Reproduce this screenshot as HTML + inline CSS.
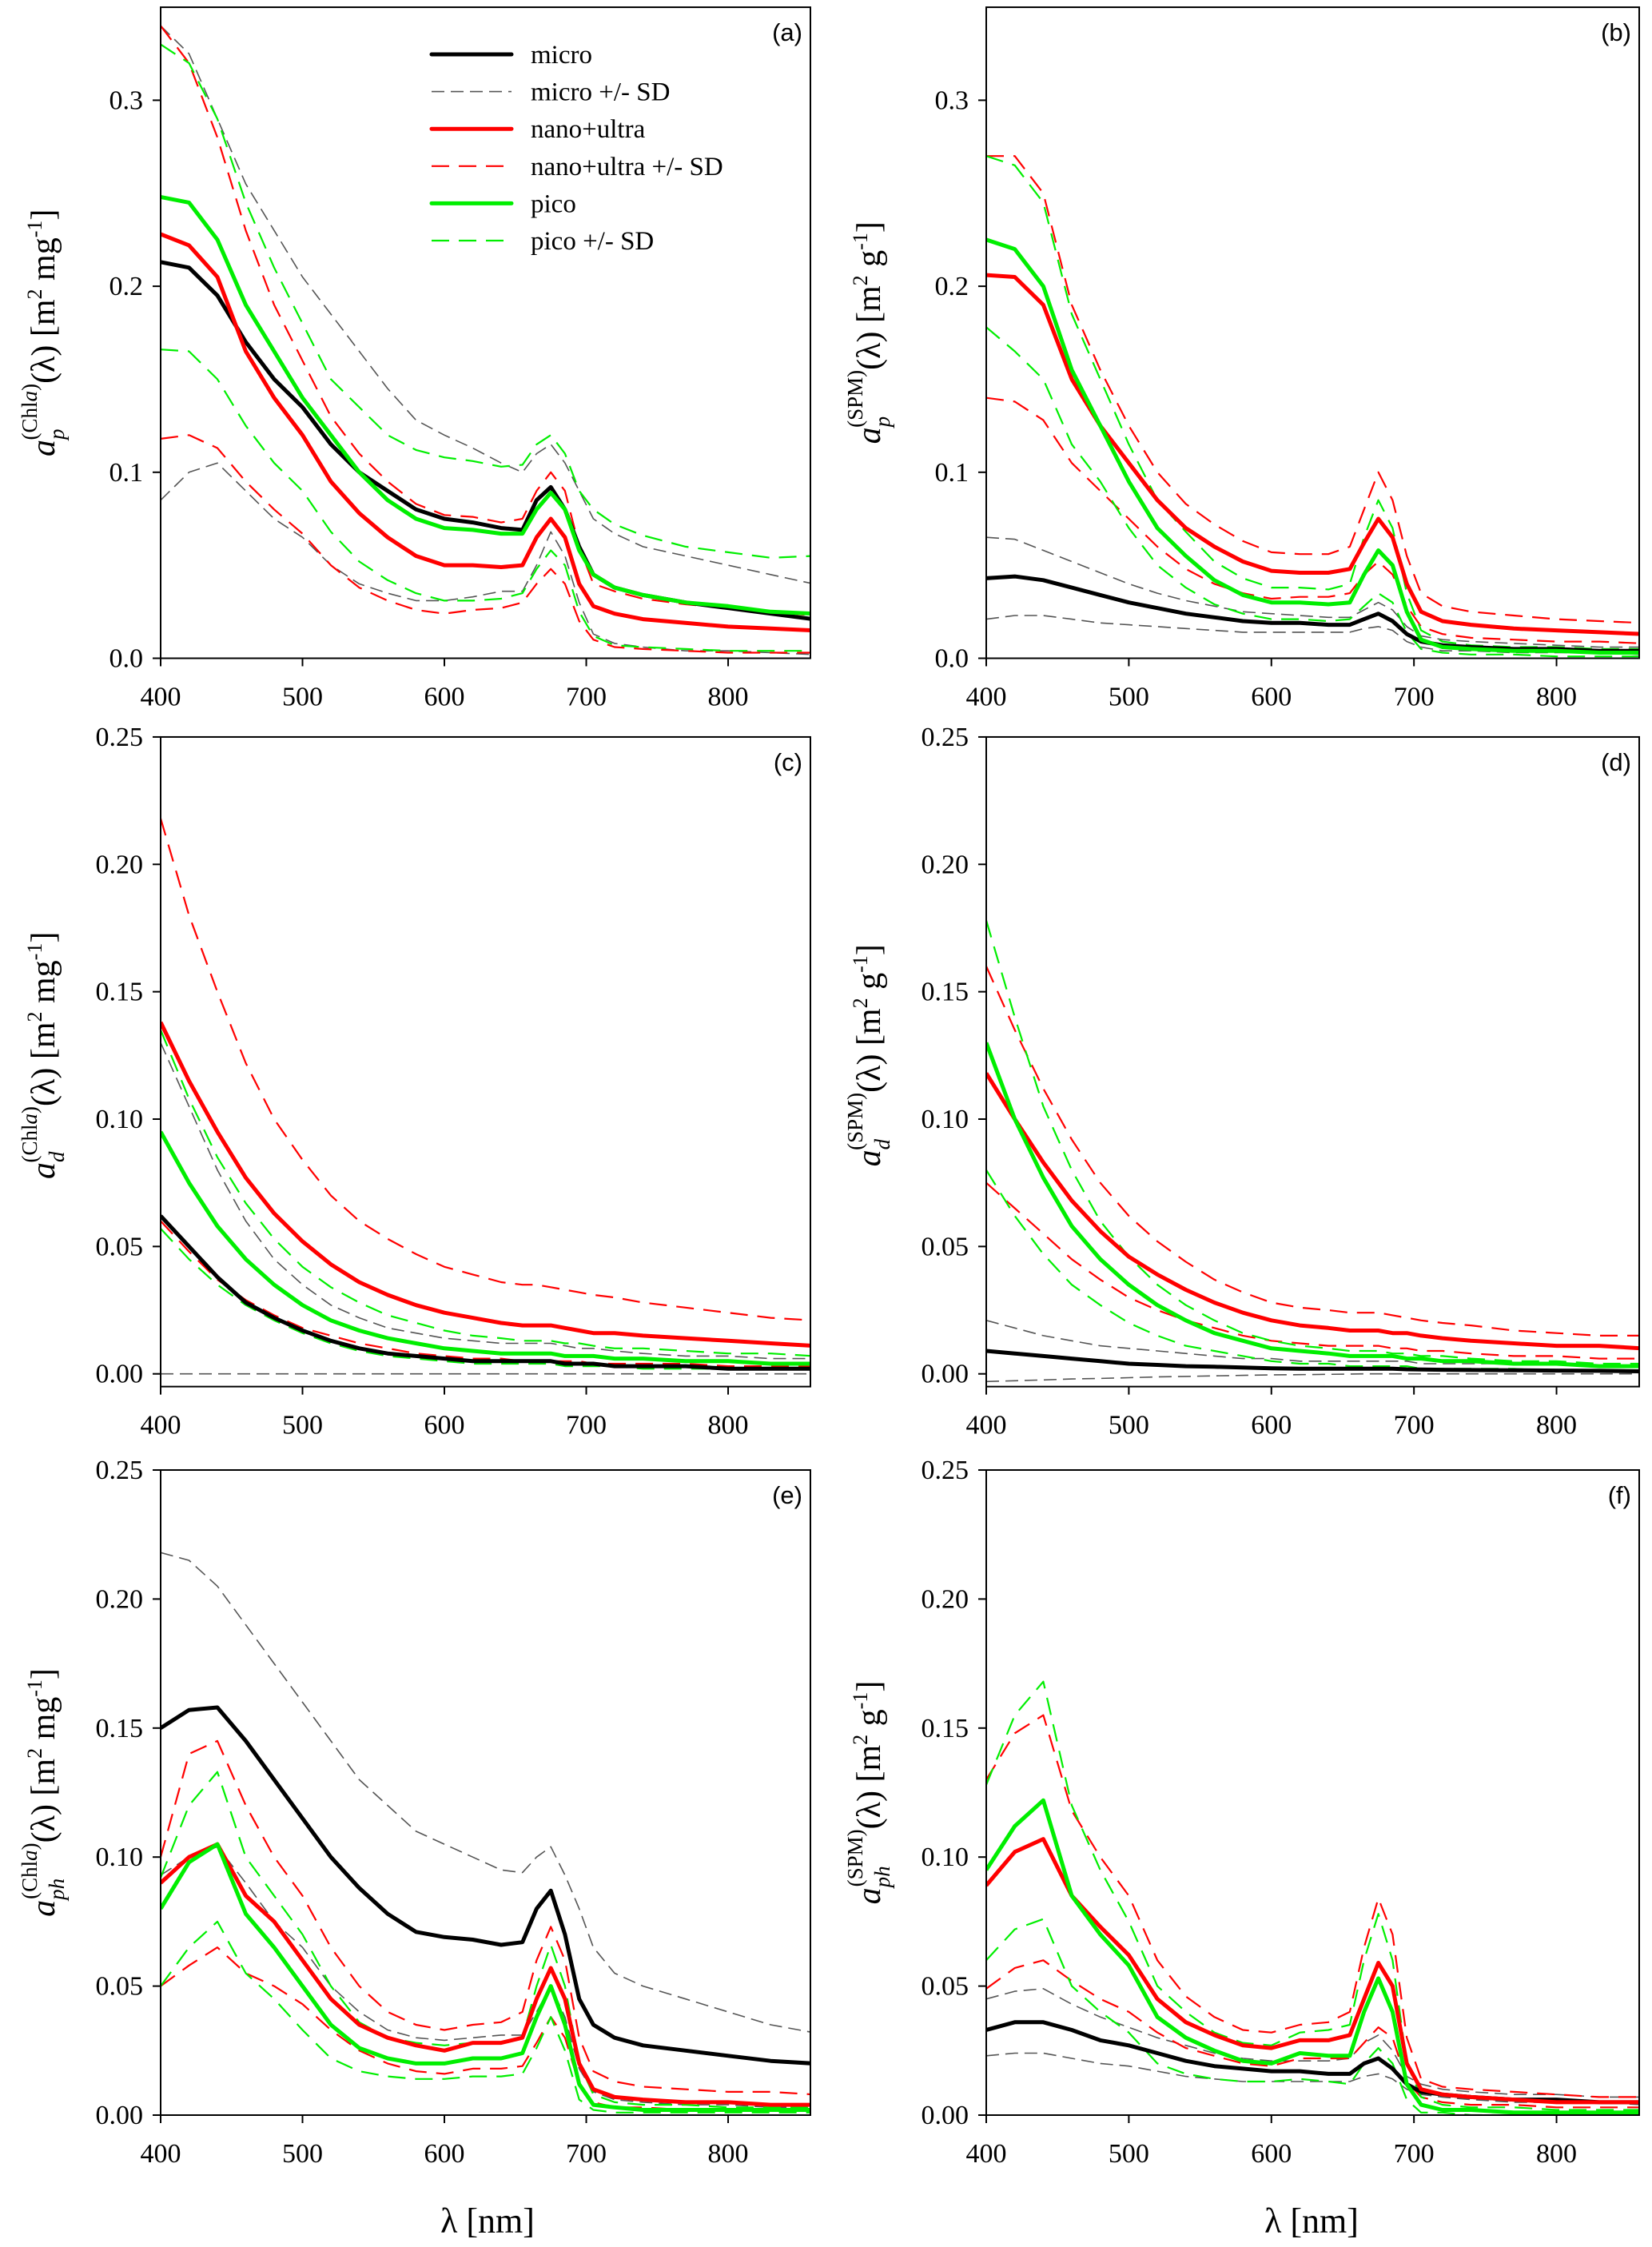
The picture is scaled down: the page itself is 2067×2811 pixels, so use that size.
<!DOCTYPE html>
<html><head><meta charset="utf-8">
<style>
html,body{margin:0;padding:0;background:#fff;}
body{width:2067px;height:2811px;position:relative;overflow:hidden;font-family:"Liberation Serif",serif;}
svg{position:absolute;left:0;top:0;}
svg text{font-family:"Liberation Serif",serif;}
svg text.sans{font-family:"Liberation Sans",sans-serif;}
</style></head>
<body>
<svg id="chart" width="2067" height="2811" viewBox="0 0 2067 2811"></svg>

<script>
const wavelengths=[400,420,440,460,480,500,520,540,560,580,600,620,640,655,665,675,685,695,705,720,740,770,800,830,860];
const xTicks=[400,500,600,700,800];
const yTicksAB=[0,0.1,0.2,0.3];
const yTicksCF=[0,0.05,0.10,0.15,0.20,0.25];

// panel a
const aMicro=[.213,.21,.195,.17,.15,.135,.115,.1,.09,.08,.075,.073,.07,.069,.085,.092,.08,.06,.045,.038,.034,.03,.027,.024,.021];
const aMicroHi=[.34,.325,.29,.255,.23,.205,.185,.165,.145,.128,.12,.113,.105,.10,.11,.115,.105,.09,.075,.067,.06,.055,.05,.045,.04];
const aMicroLo=[.085,.1,.105,.09,.075,.065,.05,.04,.035,.031,.031,.033,.036,.036,.05,.068,.055,.03,.013,.008,.006,.004,.004,.003,.002];
const aNano=[.228,.222,.205,.165,.14,.12,.095,.078,.065,.055,.05,.05,.049,.05,.065,.075,.065,.04,.028,.024,.021,.019,.017,.016,.015];
const aNanoHi=[.34,.32,.28,.23,.19,.16,.13,.11,.095,.083,.077,.076,.073,.075,.09,.1,.09,.06,.04,.036,.032,.029,.027,.025,.023];
const aNanoLo=[.118,.12,.113,.095,.08,.067,.05,.038,.031,.026,.024,.026,.027,.03,.04,.048,.04,.02,.01,.006,.005,.004,.003,.003,.003];
const aPico=[.248,.245,.225,.19,.165,.14,.12,.1,.085,.075,.07,.069,.067,.067,.08,.089,.08,.058,.045,.038,.034,.03,.028,.025,.024];
const aPicoHi=[.33,.32,.29,.245,.21,.18,.15,.135,.12,.112,.108,.106,.103,.104,.115,.12,.11,.09,.08,.072,.066,.06,.057,.054,.055];
const aPicoLo=[.166,.165,.15,.125,.105,.09,.068,.052,.042,.035,.031,.031,.032,.035,.048,.058,.05,.025,.012,.007,.006,.005,.004,.004,.004];
// panel b
const bMicro=[.043,.044,.042,.038,.034,.03,.027,.024,.022,.02,.019,.019,.018,.018,.021,.024,.02,.013,.009,.007,.006,.005,.005,.004,.004];
const bMicroHi=[.065,.064,.058,.052,.046,.04,.035,.031,.028,.025,.024,.023,.022,.022,.026,.03,.026,.017,.012,.01,.009,.008,.007,.006,.006];
const bMicroLo=[.021,.023,.023,.021,.019,.018,.017,.016,.015,.014,.014,.014,.014,.014,.016,.017,.015,.009,.006,.004,.004,.003,.003,.003,.002];
const bNano=[.206,.205,.19,.15,.125,.105,.085,.07,.06,.052,.047,.046,.046,.048,.062,.075,.065,.04,.025,.02,.018,.016,.015,.014,.013];
const bNanoHi=[.27,.27,.25,.19,.155,.125,.1,.083,.072,.063,.057,.056,.056,.06,.08,.1,.085,.055,.035,.028,.025,.023,.021,.02,.019];
const bNanoLo=[.14,.138,.128,.105,.09,.075,.06,.048,.04,.035,.032,.033,.033,.035,.045,.052,.045,.028,.017,.013,.011,.01,.009,.009,.008];
const bPico=[.225,.22,.2,.155,.125,.095,.07,.055,.042,.034,.03,.03,.029,.03,.045,.058,.05,.025,.01,.006,.005,.004,.004,.003,.003];
const bPicoHi=[.27,.265,.245,.185,.15,.115,.085,.068,.052,.043,.038,.038,.037,.04,.065,.085,.07,.035,.015,.009,.007,.006,.006,.005,.005];
const bPicoLo=[.178,.165,.15,.115,.095,.07,.05,.038,.029,.024,.021,.021,.02,.021,.028,.035,.03,.014,.005,.003,.002,.002,.001,.001,.001];
// panel c
const cMicro=[.062,.05,.038,.028,.022,.017,.013,.01,.008,.007,.006,.005,.005,.005,.005,.005,.004,.004,.004,.003,.003,.003,.002,.002,.002];
const cMicroHi=[.13,.105,.08,.06,.045,.035,.027,.022,.018,.016,.014,.013,.012,.012,.012,.012,.011,.01,.01,.009,.008,.007,.007,.006,.006];
const cMicroLo=[0,0,0,0,0,0,0,0,0,0,0,0,0,0,0,0,0,0,0,0,0,0,0,0,0];
const cNano=[.138,.115,.095,.077,.063,.052,.043,.036,.031,.027,.024,.022,.02,.019,.019,.019,.018,.017,.016,.016,.015,.014,.013,.012,.011];
const cNanoHi=[.218,.18,.15,.122,.1,.084,.07,.06,.053,.047,.042,.039,.036,.035,.035,.034,.033,.032,.031,.03,.028,.026,.024,.022,.021];
const cNanoLo=[.06,.048,.037,.029,.023,.018,.015,.012,.01,.008,.007,.006,.006,.005,.005,.005,.005,.005,.004,.004,.004,.004,.003,.003,.003];
const cPico=[.095,.075,.058,.045,.035,.027,.021,.017,.014,.012,.01,.009,.008,.008,.008,.008,.007,.007,.007,.006,.006,.005,.005,.004,.004];
const cPicoHi=[.135,.108,.085,.067,.053,.042,.034,.028,.023,.02,.017,.015,.014,.013,.013,.013,.012,.012,.011,.01,.01,.009,.008,.008,.007];
const cPicoLo=[.057,.045,.035,.027,.021,.016,.012,.009,.007,.006,.005,.004,.004,.004,.004,.004,.003,.003,.003,.003,.002,.002,.002,.002,.002];
// panel d
const dMicro=[.009,.008,.007,.006,.005,.004,.0035,.003,.0028,.0025,.0022,.002,.002,.002,.002,.002,.002,.0018,.0017,.0016,.0015,.0014,.0013,.0012,.001];
const dMicroHi=[.021,.018,.015,.013,.011,.01,.009,.008,.007,.006,.006,.005,.005,.005,.005,.005,.005,.005,.004,.004,.004,.004,.004,.003,.003];
const dMicroLo=[-.003,-.0027,-.0024,-.002,-.0018,-.0015,-.0012,-.001,-.0008,-.0006,-.0004,-.0003,-.0002,-.0001,0,0,0,0,0,0,0,0,0,0,0];
const dNano=[.118,.1,.083,.068,.056,.046,.039,.033,.028,.024,.021,.019,.018,.017,.017,.017,.016,.016,.015,.014,.013,.012,.011,.011,.01];
const dNanoHi=[.16,.135,.112,.092,.075,.062,.052,.044,.037,.032,.028,.026,.025,.024,.024,.024,.023,.022,.021,.02,.019,.017,.016,.015,.015];
const dNanoLo=[.075,.065,.055,.045,.037,.03,.025,.021,.018,.015,.013,.012,.011,.011,.011,.011,.01,.01,.009,.009,.008,.007,.007,.006,.006];
const dPico=[.13,.1,.077,.058,.045,.035,.027,.021,.016,.013,.01,.009,.008,.007,.007,.007,.007,.006,.006,.005,.005,.004,.004,.003,.003];
const dPicoHi=[.178,.14,.105,.08,.06,.046,.035,.027,.021,.016,.013,.011,.01,.009,.009,.009,.008,.008,.007,.007,.006,.005,.005,.004,.004];
const dPicoLo=[.08,.062,.047,.035,.027,.02,.015,.011,.009,.007,.005,.004,.004,.003,.003,.003,.003,.003,.002,.002,.002,.002,.001,.001,.001];
// panel e
const eMicro=[.15,.157,.158,.145,.13,.115,.1,.088,.078,.071,.069,.068,.066,.067,.08,.087,.07,.045,.035,.03,.027,.025,.023,.021,.02];
const eMicroHi=[.218,.215,.205,.19,.175,.16,.145,.13,.12,.11,.105,.1,.095,.094,.1,.104,.093,.08,.065,.055,.05,.045,.04,.035,.032];
const eMicroLo=[.093,.1,.104,.09,.075,.065,.05,.04,.033,.03,.029,.03,.031,.031,.04,.05,.038,.018,.009,.006,.005,.004,.004,.003,.003];
const eNano=[.09,.1,.105,.085,.075,.06,.045,.035,.03,.027,.025,.028,.028,.03,.045,.057,.045,.02,.01,.007,.006,.005,.005,.004,.004];
const eNanoHi=[.1,.14,.145,.12,.1,.085,.065,.05,.04,.035,.033,.035,.036,.04,.06,.073,.06,.03,.017,.013,.011,.01,.009,.009,.008];
const eNanoLo=[.05,.058,.065,.055,.05,.043,.033,.025,.02,.017,.016,.018,.018,.019,.028,.038,.03,.012,.005,.003,.003,.002,.002,.002,.002];
const ePico=[.08,.098,.105,.078,.065,.05,.035,.026,.022,.02,.02,.022,.022,.024,.038,.05,.035,.012,.004,.003,.002,.002,.002,.002,.002];
const ePicoHi=[.092,.12,.133,.1,.085,.07,.05,.036,.03,.028,.027,.028,.028,.03,.05,.066,.05,.02,.008,.005,.004,.004,.003,.003,.003];
const ePicoLo=[.05,.065,.075,.055,.045,.033,.022,.017,.015,.014,.014,.015,.015,.016,.026,.038,.025,.006,.002,.001,.001,.001,.001,.001,.001];
// panel f
const fMicro=[.033,.036,.036,.033,.029,.027,.024,.021,.019,.018,.017,.017,.016,.016,.02,.022,.018,.012,.009,.008,.007,.006,.006,.005,.005];
const fMicroHi=[.045,.048,.049,.043,.038,.034,.03,.027,.024,.022,.021,.021,.021,.022,.028,.031,.025,.015,.012,.01,.009,.008,.008,.007,.007];
const fMicroLo=[.023,.024,.024,.022,.02,.019,.017,.015,.014,.013,.013,.013,.013,.013,.015,.016,.014,.01,.008,.007,.006,.005,.005,.005,.004];
const fNano=[.089,.102,.107,.085,.073,.062,.045,.036,.031,.027,.026,.029,.029,.031,.045,.059,.05,.02,.01,.008,.007,.006,.005,.005,.005];
const fNanoHi=[.13,.148,.155,.118,.1,.085,.06,.046,.038,.033,.032,.035,.036,.04,.065,.084,.07,.03,.014,.011,.01,.009,.008,.007,.007];
const fNanoLo=[.049,.057,.06,.052,.045,.04,.032,.026,.023,.02,.019,.022,.022,.022,.028,.034,.03,.013,.007,.005,.004,.004,.003,.003,.003];
const fPico=[.095,.112,.122,.085,.07,.058,.038,.03,.025,.021,.02,.024,.023,.023,.04,.053,.04,.012,.004,.002,.002,.001,.001,.001,.001];
const fPicoHi=[.128,.155,.168,.12,.095,.075,.05,.04,.032,.028,.027,.032,.033,.035,.06,.078,.06,.02,.007,.004,.003,.003,.002,.002,.002];
const fPicoLo=[.06,.072,.076,.05,.04,.032,.02,.016,.014,.013,.013,.014,.013,.012,.02,.026,.02,.006,.001,.001,0,0,0,0,0];

const NS="http://www.w3.org/2000/svg";
const svg=document.getElementById('chart');
function mk(tag,attrs,parent){const e=document.createElementNS(NS,tag);for(const k in attrs)e.setAttribute(k,attrs[k]);(parent||svg).appendChild(e);return e;}

const panels=[
 {id:'a',L:201,R:1014,y0px:823.5,ppu:2327,ymin:0,ymax:0.35,ticks:yTicksAB,dec:1,sub:'p',sup:'Chl',unit:'mg',series:[aMicroHi,aMicroLo,aNanoHi,aNanoLo,aPicoHi,aPicoLo,aMicro,aNano,aPico]},
 {id:'b',L:1234,R:2051,y0px:823.5,ppu:2327,ymin:0,ymax:0.35,ticks:yTicksAB,dec:1,sub:'p',sup:'SPM',unit:'g',series:[bMicroHi,bMicroLo,bNanoHi,bNanoLo,bPicoHi,bPicoLo,bMicro,bNano,bPico]},
 {id:'c',L:201,R:1014,y0px:1718.7,ppu:3187,ymin:-0.005,ymax:0.25,ticks:yTicksCF,dec:2,sub:'d',sup:'Chl',unit:'mg',series:[cMicroHi,cMicroLo,cNanoHi,cNanoLo,cPicoHi,cPicoLo,cMicro,cNano,cPico]},
 {id:'d',L:1234,R:2051,y0px:1718.7,ppu:3187,ymin:-0.005,ymax:0.25,ticks:yTicksCF,dec:2,sub:'d',sup:'SPM',unit:'g',series:[dMicroHi,dMicroLo,dNanoHi,dNanoLo,dPicoHi,dPicoLo,dMicro,dNano,dPico]},
 {id:'e',L:201,R:1014,y0px:2646,ppu:3228,ymin:0,ymax:0.25,ticks:yTicksCF,dec:2,sub:'ph',sup:'Chl',unit:'mg',series:[eMicroHi,eMicroLo,eNanoHi,eNanoLo,ePicoHi,ePicoLo,eMicro,eNano,ePico]},
 {id:'f',L:1234,R:2051,y0px:2646,ppu:3228,ymin:0,ymax:0.25,ticks:yTicksCF,dec:2,sub:'ph',sup:'SPM',unit:'g',series:[fMicroHi,fMicroLo,fNanoHi,fNanoLo,fPicoHi,fPicoLo,fMicro,fNano,fPico]}
];
const styles=[
 {c:'#555',w:1.6,d:'16 8',n:'micro-plus-sd'},{c:'#555',w:1.6,d:'16 8',n:'micro-minus-sd'},
 {c:'#ff0000',w:2.2,d:'22 12',n:'nano-plus-sd'},{c:'#ff0000',w:2.2,d:'22 12',n:'nano-minus-sd'},
 {c:'#00ee00',w:2.2,d:'22 12',n:'pico-plus-sd'},{c:'#00ee00',w:2.2,d:'22 12',n:'pico-minus-sd'},
 {c:'#000',w:5,d:'',n:'micro-mean'},{c:'#ff0000',w:5,d:'',n:'nano-mean'},{c:'#00ee00',w:5,d:'',n:'pico-mean'}
];
const XMIN=400,XMAX=858;

function ts(parent,txt,attrs){const t=mk('tspan',attrs||{},parent);t.textContent=txt;return t;}

panels.forEach(p=>{
  const xs=v=>p.L+(v-XMIN)/(XMAX-XMIN)*(p.R-p.L);
  const ys=v=>p.y0px-v*p.ppu;
  const T=ys(p.ymax),B=ys(p.ymin);
  const g=mk('g',{});
  
  
  const cp=mk('clipPath',{id:'clip'+p.id},g);
  mk('rect',{x:p.L,y:T,width:p.R-p.L,height:B-T},cp);
  const lines=mk('g',{'clip-path':'url(#clip'+p.id+')'},g);
  p.series.forEach((arr,i)=>{
    const s=styles[i];
    let d='';
    arr.forEach((v,j)=>{d+=(j?'L':'M')+xs(wavelengths[j]).toFixed(1)+','+ys(v).toFixed(1);});
    const path=mk('path',{d:d,fill:'none',stroke:s.c,'stroke-width':s.w,'stroke-dasharray':s.d,'stroke-linejoin':'round'},lines);
    
    
  });
  const frame=mk('rect',{x:p.L,y:T,width:p.R-p.L,height:B-T,fill:'none',stroke:'#000','stroke-width':2},g);
  
  
  xTicks.forEach(t=>{
    const x=xs(t);
    mk('line',{x1:x,x2:x,y1:B,y2:B+10,stroke:'#000','stroke-width':2},g);
    const tx=mk('text',{x:x,y:B+59,'font-size':34,'text-anchor':'middle'},g);
    tx.textContent=t;
    
    
  });
  p.ticks.forEach(t=>{
    const y=ys(t);
    mk('line',{x1:p.L-10,x2:p.L,y1:y,y2:y,stroke:'#000','stroke-width':2},g);
    const tx=mk('text',{x:p.L-22,y:y+11,'font-size':34,'text-anchor':'end'},g);
    tx.textContent=t.toFixed(p.dec);
    
    
  });
  const lab=mk('text',{x:p.R-10,y:T+42,'font-size':31,'text-anchor':'end','class':'sans'},g);
  lab.textContent='('+p.id+')';
  
  

  // y-axis title
  const cx=p.L-133, cy=(T+p.y0px)/2;
  const yt=mk('text',{transform:'translate('+cx+','+cy+') rotate(-90)','font-size':42,'text-anchor':'middle'},g);
  
  
  ts(yt,'a',{'font-style':'italic'});
  const subW=p.sub==='ph'?26:14;
  ts(yt,p.sub,{'font-style':'italic','font-size':27,dy:12});
  ts(yt,'(',{'font-size':27,dx:-subW,dy:-34});
  if(p.sup==='Chl'){ts(yt,'Chl',{'font-size':27});ts(yt,'a',{'font-size':27,'font-style':'italic'});}
  else ts(yt,'SPM',{'font-size':27});
  ts(yt,')',{'font-size':27});
  ts(yt,'(λ) [m',{dy:22});
  ts(yt,'2',{'font-size':26,dy:-16});
  ts(yt,' '+p.unit,{dy:16});
  ts(yt,'-1',{'font-size':26,dy:-16});
  ts(yt,']',{dy:16});
});

// x-axis titles
[[610,'x-axis-title-left'],[1641,'x-axis-title-right']].forEach(a=>{
  const t=mk('text',{x:a[0],y:2793,'font-size':44,'text-anchor':'middle'});
  t.textContent='λ [nm]';
  
  
});

// legend
const legendLabels=['micro','micro +/- SD','nano+ultra','nano+ultra +/- SD','pico','pico +/- SD'];
const legendStyles=[styles[6],styles[0],styles[7],styles[2],styles[8],styles[4]];
const lg=mk('g',{});


legendLabels.forEach((lbl,i)=>{
  const y=68+i*46.6;const s=legendStyles[i];
  const ln=mk('line',{x1:540,x2:640,y1:y,y2:y,stroke:s.c,'stroke-width':s.w,'stroke-dasharray':s.d,'stroke-linecap':s.d?'butt':'round'},lg);
  
  
  const t=mk('text',{x:664,y:y+11,'font-size':33},lg);
  t.textContent=lbl;
  
  
});
</script>
</body></html>
